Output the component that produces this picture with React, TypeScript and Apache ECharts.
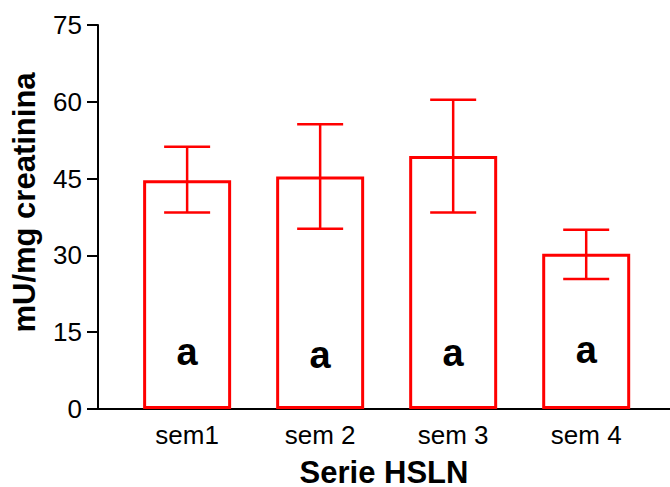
import React, { useEffect, useRef } from "react";
import * as echarts from "echarts";

const categories = ["sem1", "sem 2", "sem 3", "sem 4"];
const means = [44.7, 45.4, 49.4, 30.3];
const upper = [51.2, 55.6, 60.4, 35.0];
const lower = [38.4, 35.2, 38.4, 25.4];
const letters = ["a", "a", "a", "a"];
const letterY = [10.55, 9.9, 10.3, 11.0];
const yTicks = [0, 15, 30, 45, 60, 75];
const xTitle = "Serie HSLN";
const yTitle = "mU/mg creatinina";

const RED = "#ff0000";
const FONT = "'Liberation Sans', Arial, sans-serif";

export default function App() {
  const ref = useRef<HTMLDivElement>(null);
  useEffect(() => {
    if (!ref.current) return;
    const chart = echarts.init(ref.current, null, { renderer: "svg" });
    const xs = categories.map((_, i) => i + 1);
    chart.setOption({
      animation: false,
      backgroundColor: "#ffffff",
      textStyle: { fontFamily: FONT },
      grid: {
        left: 98,
        width: 572,
        top: 25,
        height: 384,
        containLabel: false,
        outerBoundsMode: "none",
      },
      graphic: [
        {
          type: "text",
          x: 24,
          y: 202.5,
          rotation: Math.PI / 2,
          style: {
            text: yTitle,
            font: `bold 31px ${FONT}`,
            fill: "#000",
            align: "center",
            verticalAlign: "middle",
          },
        },
      ],
      xAxis: {
        type: "value",
        min: 0.33,
        max: 4.63,
        splitLine: { show: false },
        axisLine: { show: true, onZero: false, lineStyle: { color: "#000", width: 2 } },
        axisTick: { show: false },
        axisLabel: {
          customValues: xs,
          formatter: (v: number) => categories[Math.round(v) - 1] ?? "",
          fontSize: 26,
          color: "#000",
          margin: 13,
          fontFamily: FONT,
        },
        name: xTitle,
        nameLocation: "middle",
        nameGap: 49,
        nameTextStyle: {
          fontSize: 31,
          lineHeight: 28,
          fontWeight: "bold",
          color: "#000",
          fontFamily: FONT,
        },
      },
      yAxis: {
        type: "value",
        min: 0,
        max: 75,
        interval: 15,
        splitLine: { show: false },
        axisLine: { show: true, lineStyle: { color: "#000", width: 2 } },
        axisTick: { show: true, length: 11, lineStyle: { color: "#000", width: 2 } },
        axisLabel: {
          fontSize: 26,
          color: "#000",
          margin: 16,
          fontFamily: FONT,
          formatter: (v: number) => (yTicks.includes(v) ? String(v) : ""),
        },
      },
      series: [
        {
          type: "bar",
          data: xs.map((x, i) => [x, means[i]]),
          barWidth: 88,
          itemStyle: { color: "#ffffff", borderColor: RED, borderWidth: 3 },
          silent: true,
        },
        {
          type: "custom",
          data: xs.map((x, i) => [x, lower[i], upper[i]]),
          renderItem: (params: any, api: any) => {
            const x = api.value(0);
            const lo = api.coord([x, api.value(1)]);
            const hi = api.coord([x, api.value(2)]);
            const hw = 23;
            const style = { stroke: RED, lineWidth: 2.5, fill: "none" };
            return {
              type: "group",
              children: [
                { type: "line", shape: { x1: lo[0], y1: lo[1], x2: hi[0], y2: hi[1] }, style },
                { type: "line", shape: { x1: hi[0] - hw, y1: hi[1], x2: hi[0] + hw, y2: hi[1] }, style },
                { type: "line", shape: { x1: lo[0] - hw, y1: lo[1], x2: lo[0] + hw, y2: lo[1] }, style },
              ],
            };
          },
          z: 5,
        },
        {
          type: "custom",
          data: xs.map((x, i) => [x, letterY[i]]),
          renderItem: (params: any, api: any) => {
            const p = api.coord([api.value(0), api.value(1)]);
            return {
              type: "text",
              x: p[0],
              y: p[1] - 3,
              style: {
                text: letters[params.dataIndex],
                font: `bold 38px ${FONT}`,
                fill: "#000",
                align: "center",
                verticalAlign: "middle",
              },
            };
          },
          z: 6,
        },
      ],
    });
    return () => chart.dispose();
  }, []);
  return <div ref={ref} style={{ width: 670, height: 487, position: "absolute", left: 0, top: 0 }} />;
}
